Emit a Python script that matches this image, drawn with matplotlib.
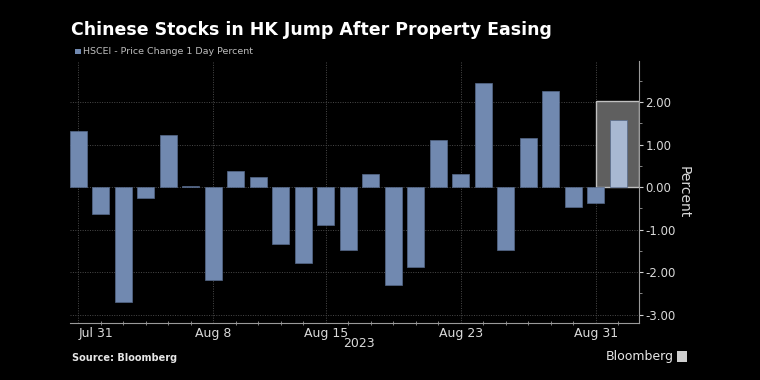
import matplotlib
matplotlib.use("Agg")
import matplotlib.pyplot as plt
from matplotlib.patches import Rectangle
from matplotlib.ticker import MultipleLocator, FixedLocator

# trading days, Jul 31 - Sep 1 2023
days = ["Jul 31", "Aug 1", "Aug 2", "Aug 3", "Aug 4",
        "Aug 7", "Aug 8", "Aug 9", "Aug 10", "Aug 11",
        "Aug 14", "Aug 15", "Aug 16", "Aug 17", "Aug 18",
        "Aug 21", "Aug 22", "Aug 23", "Aug 24", "Aug 25",
        "Aug 28", "Aug 29", "Aug 30", "Aug 31", "Sep 1"]
pct_change = [1.33, -0.64, -2.70, -0.25, 1.22,
              0.02, -2.18, 0.39, 0.24, -1.33,
              -1.79, -0.89, -1.47, 0.31, -2.31,
              -1.89, 1.11, 0.32, 2.46, -1.47,
              1.15, 2.26, -0.48, -0.38, 1.59]
tick_labels = ["Jul 31", "Aug 8", "Aug 15", "Aug 23", "Aug 31"]
y_ticks = [2, 1, 0, -1, -2, -3]

BG = "#000000"
BAR = "#7189b0"
BAR_HI = "#a8b8d2"
TXT = "#d9d9d9"
GRID = "#4a4a4a"
NARROW = ["Liberation Sans Narrow", "DejaVu Sans"]

fig = plt.figure(figsize=(7.6, 3.8), dpi=100, facecolor=BG)
ax = fig.add_axes([0.0921, 0.15, 0.7487, 0.6895], facecolor=BG)

x = list(range(len(days)))
colors = [BAR] * (len(days) - 1) + [BAR_HI]
ax.bar(x, pct_change, width=0.74, color=colors, edgecolor="#56698a",
       linewidth=0.5, zorder=3)

# highlight box around the last day
hi = len(days) - 1
box = Rectangle((hi - 1, 0), 1.92, 2.03, facecolor="#5f5f5f",
                edgecolor="#c0c0c0", linewidth=1.0, zorder=2)
ax.add_patch(box)

ax.set_xlim(-0.37, 24.92)
ax.set_ylim(-3.2, 2.97)

# x axis
major_pos = [days.index(t) for t in tick_labels]
ax.xaxis.set_major_locator(FixedLocator(major_pos))
ax.set_xticklabels(tick_labels, family=NARROW, fontsize=9, color=TXT)
ax.xaxis.set_minor_locator(FixedLocator(x))
ax.tick_params(axis="x", which="major", length=0, pad=3)
ax.tick_params(axis="x", which="minor", length=2.5, color="#9a9a9a", direction="inout")
ax.get_xticklabels()[0].set_horizontalalignment("left")
ax.get_xticklabels()[0].set_x(-0.25)

# y axis on the right
ax.yaxis.tick_right()
ax.yaxis.set_label_position("right")
ax.set_yticks(y_ticks)
ax.set_yticklabels(["%.2f" % v for v in y_ticks], family=NARROW,
                   fontsize=8.5, color=TXT)
ax.yaxis.set_minor_locator(MultipleLocator(0.5))
ax.tick_params(axis="y", which="major", length=3, color="#d0d0d0", pad=1.5)
ax.tick_params(axis="y", which="minor", length=2, color="#9a9a9a")
ax.set_ylabel("Percent", rotation=270, labelpad=11, color=TXT, fontsize=10,
              family=NARROW)

for s in ["top", "left"]:
    ax.spines[s].set_visible(False)
ax.spines["right"].set_color("#9a9a9a")
ax.spines["bottom"].set_color("#9a9a9a")

ax.grid(True, which="major", color=GRID, linestyle=(0, (1, 1.5)), linewidth=0.7, zorder=0)
ax.set_axisbelow(True)

fig.text(0.4725, 0.097, "2023", ha="center", va="center", color=TXT,
         fontsize=9, family=NARROW)

# title and legend
fig.text(0.094, 0.922, "Chinese Stocks in HK Jump After Property Easing",
         color="white", fontsize=12.5, fontweight="bold", ha="left", va="center")
fig.patches.append(Rectangle((0.0985, 0.857), 0.0075, 0.015, transform=fig.transFigure,
                             facecolor=BAR, edgecolor="none"))
fig.text(0.109, 0.864, "HSCEI - Price Change 1 Day Percent", color="#bdbdbd",
         fontsize=6.8, ha="left", va="center", family=NARROW)

# footer
fig.text(0.095, 0.058, "Source: Bloomberg", color="#e6e6e6", fontsize=7,
         fontweight="bold", ha="left", va="center")
fig.text(0.887, 0.062, "Bloomberg", color="#e6e6e6", fontsize=9,
         ha="right", va="center", family=NARROW)
fig.patches.append(Rectangle((0.891, 0.047), 0.013, 0.03, transform=fig.transFigure,
                             facecolor="#cfcfcf", edgecolor="none"))

fig.savefig("out.png", dpi=100, facecolor=BG)
